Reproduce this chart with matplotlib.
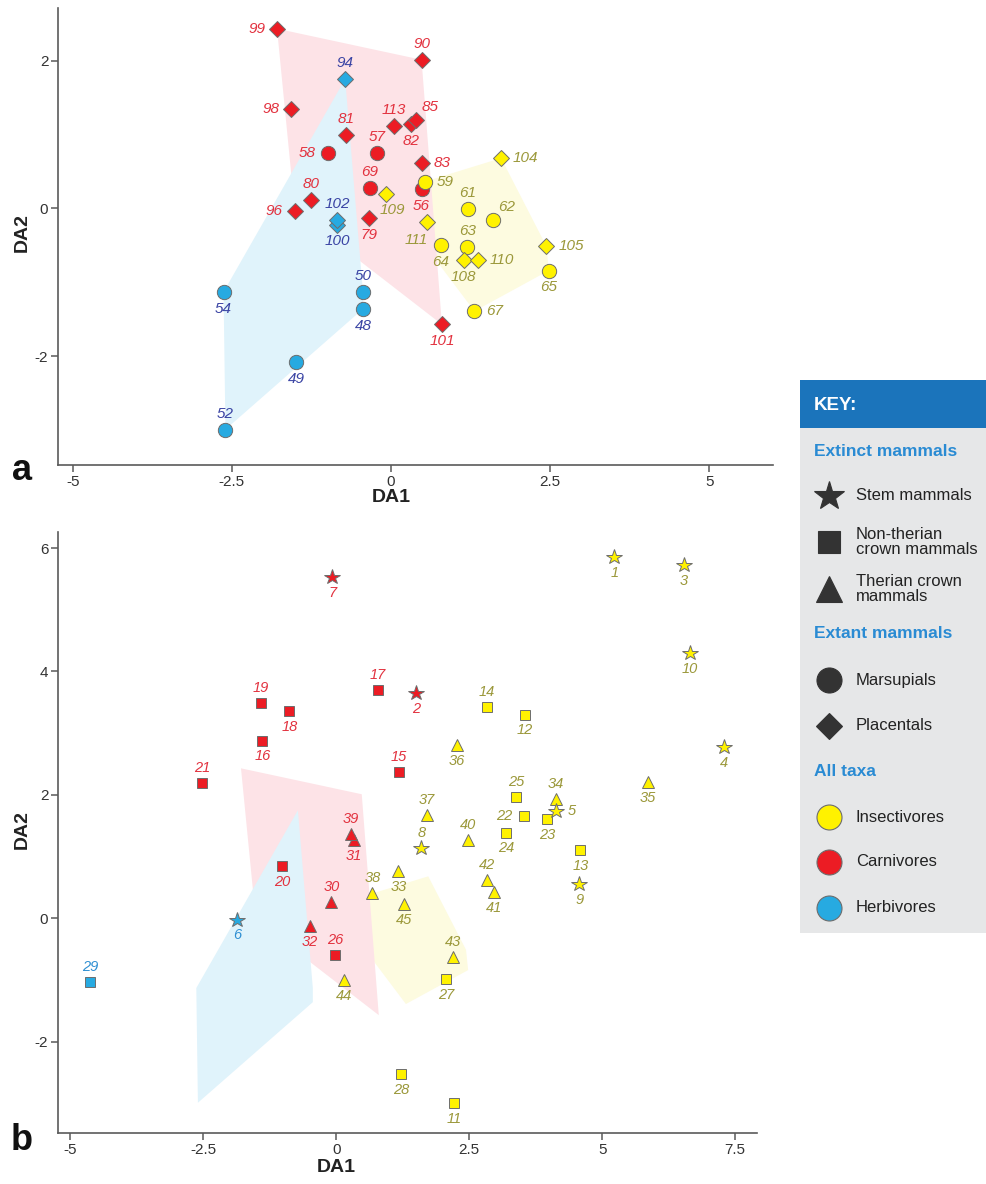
import numpy as np
import matplotlib
matplotlib.use("Agg")
import matplotlib.pyplot as plt
from matplotlib import font_manager
from matplotlib.patches import Polygon, Rectangle

# ---------------------------------------------------------------------------
# Panel a: extant mammals (DA scores)
# group: M = marsupial, P = placental; diet: I / C / H
a_ids = [48, 49, 50, 52, 54, 56, 57, 58, 59, 61, 62, 63, 64, 65, 67, 69,
         79, 80, 81, 82, 83, 85, 90, 94, 96, 98, 99, 100, 101, 102, 104,
         105, 108, 109, 110, 111, 113]
a_x = [-0.44, -1.49, -0.44, -2.60, -2.63, 0.48, -0.22, -0.99, 0.53, 1.21,
       1.60, 1.20, 0.78, 2.48, 1.31, -0.33,
       -0.35, -1.25, -0.71, 0.32, 0.48, 0.39, 0.48, -0.72, -1.51, -1.57,
       -1.79, -0.85, 0.80, -0.85, 1.73, 2.44, 1.14, -0.08, 1.36, 0.56, 0.04]
a_y = [-1.36, -2.08, -1.13, -2.99, -1.13, 0.26, 0.75, 0.75, 0.36, -0.01,
       -0.16, -0.52, -0.50, -0.84, -1.39, 0.27,
       -0.13, 0.12, 0.99, 1.14, 0.61, 1.19, 2.01, 1.75, -0.03, 1.34,
       2.43, -0.22, -1.57, -0.16, 0.68, -0.51, -0.70, 0.20, -0.70, -0.19, 1.11]
a_group = ['M'] * 16 + ['P'] * 21
a_diet = ['H', 'H', 'H', 'H', 'H', 'C', 'C', 'C', 'I', 'I', 'I', 'I', 'I',
          'I', 'I', 'C',
          'C', 'C', 'C', 'C', 'C', 'C', 'C', 'H', 'C', 'C', 'C', 'H', 'C',
          'H', 'I', 'I', 'I', 'I', 'I', 'I', 'C']

# Panel b: fossil mammals (DA scores)
# group: S = stem, N = non-therian crown, T = therian crown
b_ids = list(range(1, 46))
b_x = [5.23, 1.50, 6.53, 7.29, 4.13, -1.86, -0.07, 1.60, 4.57, 6.65,
       2.22, 3.55, 4.59, 2.83, 1.18, -1.39, 0.78, -0.88, -1.41, -1.01,
       -2.52, 3.53, 3.96, 3.20, 3.38, -0.02, 2.06, 1.22, -4.62,
       -0.09, 0.33, -0.49, 1.17, 4.13, 5.86, 2.27, 1.70, 0.68, 0.28,
       2.47, 2.97, 2.84, 2.19, 0.14, 1.28]
b_y = [5.85, 3.65, 5.73, 2.77, 1.74, -0.02, 5.53, 1.14, 0.56, 4.30,
       -3.00, 3.30, 1.11, 3.43, 2.37, 2.88, 3.70, 3.36, 3.49, 0.84,
       2.19, 1.65, 1.61, 1.39, 1.96, -0.59, -0.99, -2.52, -1.04,
       0.26, 1.27, -0.12, 0.76, 1.94, 2.21, 2.80, 1.68, 0.41, 1.37,
       1.27, 0.42, 0.62, -0.63, -1.00, 0.23]
b_group = ['S'] * 10 + ['N'] * 19 + ['T'] * 16
b_diet = ['I', 'C', 'I', 'I', 'I', 'H', 'C', 'I', 'I', 'I',
          'I', 'I', 'I', 'I', 'C', 'C', 'C', 'C', 'C', 'C',
          'C', 'I', 'I', 'I', 'I', 'C', 'I', 'I', 'H',
          'C', 'C', 'C', 'I', 'I', 'I', 'I', 'I', 'I', 'C',
          'I', 'I', 'I', 'I', 'I', 'I']

# ---------------------------------------------------------------------------
# styling
FILL = {'I': '#fff200', 'C': '#ec1c24', 'H': '#27aae1'}
HULL = {'I': '#fdfbe0', 'C': '#fde3e7', 'H': '#e0f3fb'}
LABEL_A = {'I': '#9b983a', 'C': '#e2323f', 'H': '#3a44a4'}
LABEL_B = {'I': '#9b983a', 'C': '#e2323f', 'H': '#2f8fd2'}
EDGE = '#6d6d6d'
SPINE = '#5a5a5a'

MARK_A = {'M': ('o', 10.3), 'P': ('D', 8.0)}
MARK_B = {'S': ('*', 11.5), 'N': ('s', 7.4), 'T': ('^', 8.3)}

# label placement around each marker
a_place = {99: 'w', 90: 'n', 94: 'n', 98: 'w', 81: 'n', 113: 'n', 85: 'ne',
           82: 's', 58: 'w', 57: 'n', 83: 'e', 59: 'e', 56: 's', 69: 'n',
           109: 'se', 80: 'n', 96: 'w', 102: 'n', 100: 's', 79: 's', 61: 'n',
           111: 'sw', 104: 'e', 62: 'ne', 63: 'n', 64: 's', 108: 's',
           110: 'e', 105: 'e', 65: 's', 67: 'e', 101: 's', 54: 's', 50: 'n',
           48: 's', 49: 's', 52: 'n'}
b_place = {k: 's' for k in b_ids}
b_place.update({17: 'n', 14: 'n', 19: 'n', 15: 'n', 21: 'n', 25: 'n',
                34: 'n', 5: 'e', 22: 'w', 37: 'n', 39: 'n', 40: 'n', 8: 'n',
                42: 'n', 38: 'n', 30: 'n', 26: 'n', 43: 'n', 29: 'n'})


def has_font(name):
    try:
        font_manager.findfont(font_manager.FontProperties(family=name),
                              fallback_to_default=False)
        return True
    except Exception:
        return False


SANS = 'Liberation Sans' if has_font('Liberation Sans') else 'DejaVu Sans'
NARROW = 'Liberation Sans Narrow' if has_font('Liberation Sans Narrow') else SANS
plt.rcParams['font.family'] = [SANS, 'DejaVu Sans']


def convex_hull(px, py):
    pts = sorted(set(zip(px, py)))
    if len(pts) < 3:
        return pts

    def cross(o, a, b):
        return (a[0] - o[0]) * (b[1] - o[1]) - (a[1] - o[1]) * (b[0] - o[0])

    lower, upper = [], []
    for p in pts:
        while len(lower) >= 2 and cross(lower[-2], lower[-1], p) <= 0:
            lower.pop()
        lower.append(p)
    for p in reversed(pts):
        while len(upper) >= 2 and cross(upper[-2], upper[-1], p) <= 0:
            upper.pop()
        upper.append(p)
    return lower[:-1] + upper[:-1]


def offset_for(code, gap_ns):
    # returns (dx, dy, ha) in points
    side = 8.6
    table = {
        'n': (0, gap_ns, 'center'),
        's': (0, -gap_ns - 0.6, 'center'),
        'e': (side, 0, 'left'),
        'w': (-side, 0, 'right'),
        'ne': (10.0, 9.5, 'center'),
        'se': (4.5, -11.5, 'center'),
        'sw': (-7.2, -12.4, 'center'),
    }
    return table[code]


def draw_hulls(ax):
    ax_x = np.array(a_x)
    ax_y = np.array(a_y)
    diets = np.array(a_diet)
    for d, z in (('I', 1), ('C', 2), ('H', 3)):
        sel = diets == d
        hull = convex_hull(ax_x[sel], ax_y[sel])
        ax.add_patch(Polygon(hull, closed=True, facecolor=HULL[d],
                             edgecolor='none', zorder=z))


def style_axes(ax, narrow=False):
    for s in ('top', 'right'):
        ax.spines[s].set_visible(False)
    for s in ('left', 'bottom'):
        ax.spines[s].set_color(SPINE)
        ax.spines[s].set_linewidth(1.2)
    ax.tick_params(direction='out', length=5, width=1.1, color=SPINE,
                   labelsize=11, labelcolor='#333333', pad=2)
    fam = NARROW if narrow else SANS
    for lab in ax.get_xticklabels() + ax.get_yticklabels():
        lab.set_family(fam)
    ax.set_facecolor('none')


def scatter_panel(ax, ids, xs, ys, groups, diets, marks, places, label_cols,
                  gap_ns, fsize, order):
    for g in order:
        for i, x, y, gg, d in zip(ids, xs, ys, groups, diets):
            if gg != g:
                continue
            m, ms = marks[g]
            ax.plot(x, y, marker=m, markersize=ms, markerfacecolor=FILL[d],
                    markeredgecolor=EDGE, markeredgewidth=0.7, linestyle='none',
                    zorder=10)
            dx, dy, ha = offset_for(places[i], gap_ns)
            ax.annotate(str(i), (x, y), xytext=(dx, dy),
                        textcoords='offset points', ha=ha, va='center',
                        fontsize=fsize, style='italic', color=label_cols[d],
                        zorder=11)


fig = plt.figure(figsize=(9.86, 11.84), dpi=100)
W, H = 986.0, 1184.0

# ---------------------------------------------------------------- panel a
ax_a = fig.add_axes([58 / W, 1 - 465 / H, (773 - 58) / W, (465 - 8) / H])
ax_a.set_xlim(-5.23, 6.0)
ax_a.set_ylim(-3.47, 2.71)
ax_a.set_xticks([-5, -2.5, 0, 2.5, 5])
ax_a.set_xticklabels(['-5', '-2.5', '0', '2.5', '5'])
ax_a.set_yticks([-2, 0, 2])
ax_a.set_yticklabels(['-2', '0', '2'])
draw_hulls(ax_a)
scatter_panel(ax_a, a_ids, a_x, a_y, a_group, a_diet, MARK_A, a_place,
              LABEL_A, 11.5, 11, ['M', 'P'])
style_axes(ax_a)

# ---------------------------------------------------------------- panel b
ax_b = fig.add_axes([58 / W, 1 - 1133 / H, (757 - 58) / W, (1133 - 532) / H])
ax_b.set_xlim(-5.23, 7.91)
ax_b.set_ylim(-3.48, 6.26)
ax_b.set_xticks([-5, -2.5, 0, 2.5, 5, 7.5])
ax_b.set_xticklabels(['-5', '-2.5', '0', '2.5', '5', '7.5'])
ax_b.set_yticks([-2, 0, 2, 4, 6])
ax_b.set_yticklabels(['-2', '0', '2', '4', '6'])
draw_hulls(ax_b)
scatter_panel(ax_b, b_ids, b_x, b_y, b_group, b_diet, MARK_B, b_place,
              LABEL_B, 10.8, 10.5, ['T', 'N', 'S'])
style_axes(ax_b, narrow=True)

# axis titles and panel letters
fig.text(391 / W, 1 - 497 / H, 'DA1', ha='center', va='center',
         fontsize=14, fontweight='bold', color='#222222')
fig.text(22 / W, 1 - 233 / H, 'DA2', ha='center', va='center', rotation=90,
         fontsize=14, fontweight='bold', color='#222222')
fig.text(336 / W, 1 - 1168 / H, 'DA1', ha='center', va='center',
         fontsize=14, fontweight='bold', color='#222222', family=NARROW)
fig.text(22 / W, 1 - 830 / H, 'DA2', ha='center', va='center', rotation=90,
         fontsize=14, fontweight='bold', color='#222222', family=NARROW)
fig.text(22 / W, 1 - 470 / H, 'a', ha='center', va='center',
         fontsize=26, fontweight='bold', color='#111111')
fig.text(22 / W, 1 - 1140 / H, 'b', ha='center', va='center',
         fontsize=26, fontweight='bold', color='#111111')

# ---------------------------------------------------------------- key
kx0, ky0, kx1, ky1 = 800, 380, 986, 933
ax_k = fig.add_axes([kx0 / W, 1 - ky1 / H, (kx1 - kx0) / W, (ky1 - ky0) / H])
ax_k.set_xlim(kx0, kx1)
ax_k.set_ylim(ky1, ky0)
ax_k.axis('off')
ax_k.add_patch(Rectangle((kx0, ky0), kx1 - kx0, ky1 - ky0,
                         facecolor='#e6e7e8', edgecolor='none'))
ax_k.add_patch(Rectangle((kx0, ky0), kx1 - kx0, 48,
                         facecolor='#1b74bb', edgecolor='none'))
ax_k.text(814, 405, 'KEY:', color='white', fontsize=13.5, fontweight='bold',
          ha='left', va='center')

HEAD = '#2a8bd3'
TXT = '#222222'
ICON = '#333333'
ax_k.text(814, 451, 'Extinct mammals', color=HEAD, fontsize=12.5,
          fontweight='bold', ha='left', va='center')
ax_k.text(814, 634, 'Extant mammals', color=HEAD, fontsize=12.5,
          fontweight='bold', ha='left', va='center')
ax_k.text(814, 771, 'All taxa', color=HEAD, fontsize=12.5,
          fontweight='bold', ha='left', va='center')

key_rows = [
    ('*', 22, ICON, 496, 'Stem mammals'),
    ('s', 16, ICON, 542, 'Non-therian\ncrown mammals'),
    ('^', 19, ICON, 589, 'Therian crown\nmammals'),
    ('o', 18, ICON, 680, 'Marsupials'),
    ('D', 13.5, ICON, 726, 'Placentals'),
    ('o', 18, FILL['I'], 817, 'Insectivores'),
    ('o', 18, FILL['C'], 862, 'Carnivores'),
    ('o', 18, FILL['H'], 908, 'Herbivores'),
]
for m, ms, col, yy, label in key_rows:
    ec = EDGE if col != ICON else ICON
    ax_k.plot(829, yy, marker=m, markersize=ms, markerfacecolor=col,
              markeredgecolor=ec, markeredgewidth=0.8, linestyle='none')
    ax_k.text(856, yy, label, color=TXT, fontsize=12, ha='left',
              va='center', linespacing=1.0)

fig.savefig('out.png', dpi=100, facecolor='white')
